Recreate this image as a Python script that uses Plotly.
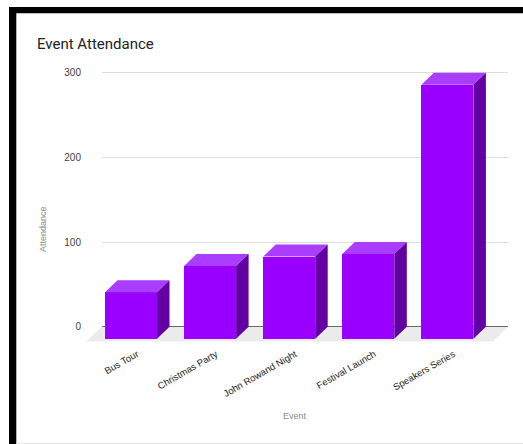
import plotly.graph_objects as go

# ---- data ----
categories = ["Bus Tour", "Christmas Party", "John Rowand Night", "Festival Launch", "Speakers Series"]
attendance = [55, 86, 97, 100, 300]
y_ticks = [0, 100, 200, 300]
chart_title = "Event Attendance"
x_title = "Event"
y_title = "Attendance"

# ---- layout geometry (pixels) ----
W_FIG, H_FIG = 523, 444
ML, MR, MT, MB = 102, 15, 64, 100
L, R, T, B = ML, W_FIG - MR, MT, H_FIG - MB
PW, PH = R - L, B - T

Y0_PX, Y_SCALE = 326.7, 0.8467      # px of value 0, px per unit
X0_PX, X_SCALE = 143.5, 79.1        # px of category 0 (back plane), px per category
ymax = (Y0_PX - T) / Y_SCALE
ymin = -(B - Y0_PX) / Y_SCALE
xmin = (L - X0_PX) / X_SCALE
xmax = (R - X0_PX) / X_SCALE

DX = 12.5 / X_SCALE   # depth offset in x units
DY = 12.0 / Y_SCALE   # depth offset in y units
BW = 52.0 / X_SCALE   # bar width in x units

FRONT = "#9900ff"
TOP = "#aa3dff"
SIDE = "#6200a4"


def px(x):
    return (x - L) / PW


def py(y):
    return (B - y) / PH


idx = list(range(len(categories)))
front_x = [i - DX for i in idx]

fig = go.Figure()

# front faces
fig.add_trace(go.Bar(
    x=front_x, y=attendance, base=[-DY] * len(attendance), width=BW,
    marker=dict(color=FRONT, line=dict(width=0)), hoverinfo="skip", showlegend=False,
))

# top & side faces
for i, v in zip(idx, attendance):
    xf = i - DX
    xb = i
    fig.add_trace(go.Scatter(
        x=[xf - BW / 2, xf + BW / 2, xb + BW / 2, xb - BW / 2, xf - BW / 2],
        y=[v - DY, v - DY, v, v, v - DY],
        fill="toself", fillcolor=TOP, mode="lines", line=dict(width=0, color=TOP),
        hoverinfo="skip", showlegend=False,
    ))
    fig.add_trace(go.Scatter(
        x=[xf + BW / 2, xb + BW / 2, xb + BW / 2, xf + BW / 2, xf + BW / 2],
        y=[v - DY, v, 0, -DY, v - DY],
        fill="toself", fillcolor=SIDE, mode="lines", line=dict(width=0, color=SIDE),
        hoverinfo="skip", showlegend=False,
    ))

shapes = [
    # floor
    dict(type="path", xref="paper", yref="paper", layer="below",
         path=f"M {px(101.7)} {py(326.7)} L {px(508)} {py(326.7)} L {px(493)} {py(341.5)} L {px(86)} {py(341.5)} Z",
         fillcolor="#ebebeb", line=dict(width=0)),
    # black frame
    dict(type="rect", xref="paper", yref="paper", x0=px(9), x1=px(530), y0=py(7), y1=py(13.3),
         fillcolor="black", line=dict(width=0), layer="above"),
    dict(type="rect", xref="paper", yref="paper", x0=px(9), x1=px(16.3), y0=py(7), y1=py(450),
         fillcolor="black", line=dict(width=0), layer="above"),
    dict(type="line", xref="paper", yref="paper", x0=px(16), x1=px(523), y0=py(443.5), y1=py(443.5),
         line=dict(width=1, color="#e6e6e6"), layer="above"),
]

annotations = [
    dict(text=chart_title, xref="paper", yref="paper", x=px(35), y=py(44), xanchor="left", yanchor="middle",
         showarrow=False, font=dict(family="Roboto", size=15, color="#222222")),
    dict(text=x_title, xref="paper", yref="paper", x=px(295), y=py(416), xanchor="center", yanchor="middle",
         showarrow=False, font=dict(family="Liberation Sans, Arial", size=9, color="#8a8a8a")),
    dict(text=y_title, xref="paper", yref="paper", x=px(43), y=py(229), xanchor="center", yanchor="middle",
         textangle=-90, showarrow=False, font=dict(family="Liberation Sans, Arial", size=9, color="#8a8a8a")),
]

fig.update_layout(
    width=W_FIG, height=H_FIG,
    margin=dict(l=ML, r=MR, t=MT, b=MB, pad=0),
    paper_bgcolor="white", plot_bgcolor="rgba(0,0,0,0)",
    shapes=shapes, annotations=annotations,
    bargap=0,
    xaxis=dict(range=[xmin, xmax], tickmode="array", tickvals=[i - 0.082 for i in idx], ticktext=categories,
               tickangle=-30, showgrid=False, zeroline=False, showline=False, ticks="",
               ticklabelstandoff=2,
               tickfont=dict(family="Liberation Sans, Arial", size=9.5, color="#1a1a1a"),
               fixedrange=True),
    yaxis=dict(range=[ymin, ymax], tickmode="array", tickvals=y_ticks, ticktext=[str(t) for t in y_ticks],
               showgrid=True, gridcolor="#dcdcdc", gridwidth=1,
               zeroline=True, zerolinecolor="#666666", zerolinewidth=1.3,
               showline=False, ticks="", ticklabelstandoff=20,
               tickfont=dict(family="Liberation Sans, Arial", size=10, color="#444444"),
               fixedrange=True),
)

fig.write_html("out.html", config={"displayModeBar": False},
               post_script="document.body.style.margin='0';document.body.style.overflow='hidden';")
